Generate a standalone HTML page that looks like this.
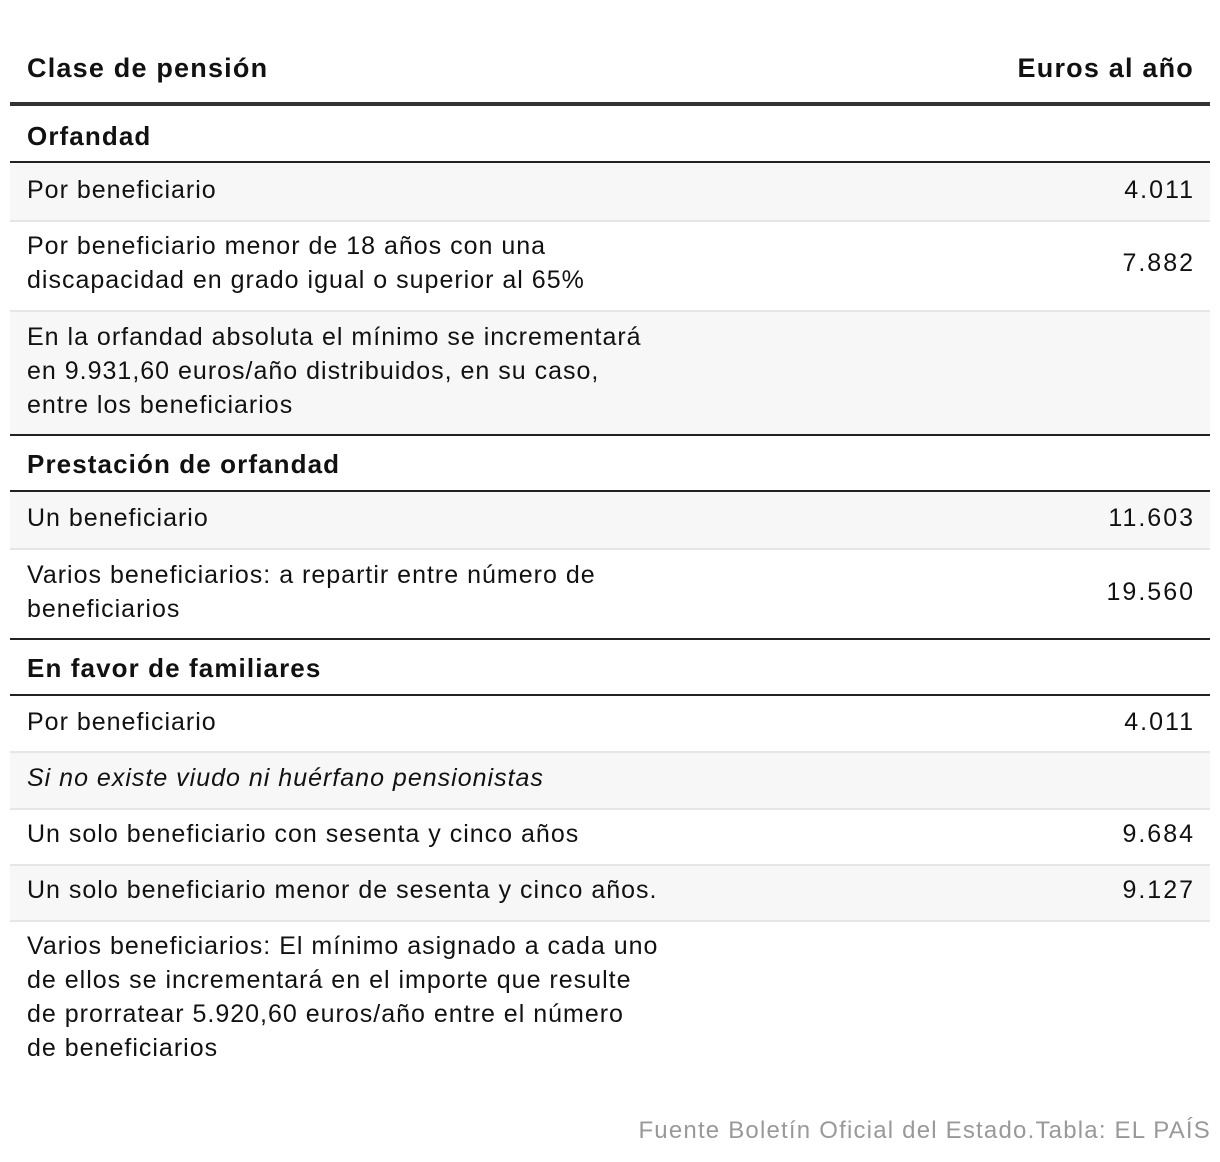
<!DOCTYPE html>
<html><head><meta charset="utf-8"><style>
body{margin:0;width:1220px;height:1162px;background:#fff;position:relative;font-family:"Liberation Sans",sans-serif;color:#111;overflow:hidden}
.a{position:absolute}
.t{position:absolute;left:27px;font-size:25px;letter-spacing:1px;line-height:34px;white-space:nowrap}
.n{position:absolute;right:27px;font-size:25px;letter-spacing:2px;margin-right:-2px;line-height:34px}
.b{font-weight:bold;font-size:26px;letter-spacing:1.1px}
.g{position:absolute;left:10px;width:1200px;background:#f7f7f7}
.l{position:absolute;left:10px;width:1200px;height:2px;background:#e6e6e6}
.d{position:absolute;left:10px;width:1200px;height:2px;background:#222}
</style></head><body>
<div class="t b" style="top:51px;font-size:27px;letter-spacing:1.2px">Clase de pensión</div>
<div class="n b" style="top:51px;font-size:27px;letter-spacing:1.2px;margin-right:-1px">Euros al año</div>
<div class="d" style="top:102px;height:4px;background:#333"></div>
<div class="t b" style="top:119px">Orfandad</div>
<div class="d" style="top:161px"></div>
<div class="g" style="top:163px;height:57px"></div>
<div class="t" style="top:173px">Por beneficiario</div><div class="n" style="top:173px">4.011</div>
<div class="l" style="top:220px"></div>
<div class="t" style="top:229px">Por beneficiario menor de 18 años con una<br>discapacidad en grado igual o superior al 65%</div><div class="n" style="top:246px">7.882</div>
<div class="l" style="top:310px"></div>
<div class="g" style="top:312px;height:122px"></div>
<div class="t" style="top:320px">En la orfandad absoluta el mínimo se incrementará<br>en 9.931,60 euros/año distribuidos, en su caso,<br>entre los beneficiarios</div>
<div class="d" style="top:434px"></div>
<div class="t b" style="top:447px">Prestación de orfandad</div>
<div class="d" style="top:490px"></div>
<div class="g" style="top:492px;height:57px"></div>
<div class="t" style="top:501px">Un beneficiario</div><div class="n" style="top:501px">11.603</div>
<div class="l" style="top:548px"></div>
<div class="t" style="top:558px">Varios beneficiarios: a repartir entre número de<br>beneficiarios</div><div class="n" style="top:575px">19.560</div>
<div class="d" style="top:638px"></div>
<div class="t b" style="top:651px">En favor de familiares</div>
<div class="d" style="top:694px"></div>
<div class="t" style="top:705px">Por beneficiario</div><div class="n" style="top:705px">4.011</div>
<div class="l" style="top:751px"></div>
<div class="g" style="top:753px;height:55px"></div>
<div class="t" style="top:761px;font-style:italic">Si no existe viudo ni huérfano pensionistas</div>
<div class="l" style="top:808px"></div>
<div class="t" style="top:817px">Un solo beneficiario con sesenta y cinco años</div><div class="n" style="top:817px">9.684</div>
<div class="l" style="top:864px"></div>
<div class="g" style="top:866px;height:54px"></div>
<div class="t" style="top:873px">Un solo beneficiario menor de sesenta y cinco años.</div><div class="n" style="top:873px">9.127</div>
<div class="l" style="top:920px"></div>
<div class="t" style="top:929px">Varios beneficiarios: El mínimo asignado a cada uno<br>de ellos se incrementará en el importe que resulte<br>de prorratear 5.920,60 euros/año entre el número<br>de beneficiarios</div>
<div class="a" style="right:9px;top:1117px;font-size:24px;letter-spacing:1.2px;color:#999;white-space:nowrap">Fuente Boletín Oficial del Estado.Tabla: EL PAÍS</div>
</body></html>
